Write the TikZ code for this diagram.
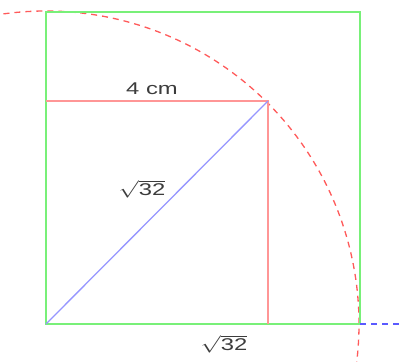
\documentclass[tikz,border=0pt]{standalone}
\usepackage{fontspec}
\setsansfont{Liberation Sans}
\definecolor{sqgreen}{RGB}{120,240,120}
\definecolor{lred}{RGB}{255,150,150}
\definecolor{lblue}{RGB}{150,150,255}
\definecolor{dred}{RGB}{255,90,90}
\definecolor{dblue}{RGB}{90,90,255}
\definecolor{txt}{RGB}{60,60,60}
\tikzset{
  sq/.style={draw=sqgreen, line width=1.8pt},
  redline/.style={draw=lred, line width=1.8pt},
  blueline/.style={draw=lblue, line width=1.3pt},
  arcline/.style={draw=dred, line width=1.3pt, dash pattern=on 6pt off 5pt},
  extline/.style={draw=dblue, line width=1.3pt, dash pattern=on 6pt off 5pt},
  lbl/.style={text=txt, font=\sffamily\fontsize{17}{20}\selectfont, xscale=1.4, inner sep=0pt}
}
\begin{document}
\begin{tikzpicture}[x=1pt,y=1pt]
\useasboundingbox (0,0) rectangle (401,-361);
\clip (0,0) rectangle (401,-361);
\coordinate (O) at (46,-324);
\coordinate (TL) at (46,-12);
\coordinate (TR) at (360,-12);
\coordinate (BR) at (360,-324);
\coordinate (P) at (268,-101);
\coordinate (L) at (46,-101);
\coordinate (F) at (268,-324);
\coordinate (E) at (401,-324);
% dashed arc
\draw[arcline] ([shift={(-8:313)}]O) arc[start angle=-8, end angle=100, radius=313];
% square
\draw[sq] (TL) rectangle (BR);
% red lines
\draw[redline] (L) -- (P) -- (F);
% blue diagonal
\draw[blueline] (O) -- (P);
% blue dashed extension
\draw[extline] (BR) -- (E);
% labels
\node[lbl] (l1) at (152,-89) {4 cm};
\node[lbl] (l2) at (142,-189) {$\sqrt{\hbox{\sffamily\fontsize{17}{20}\selectfont 32}}$};
\node[lbl] (l3) at (224,-344) {$\sqrt{\hbox{\sffamily\fontsize{17}{20}\selectfont 32}}$};
\end{tikzpicture}
\end{document}
